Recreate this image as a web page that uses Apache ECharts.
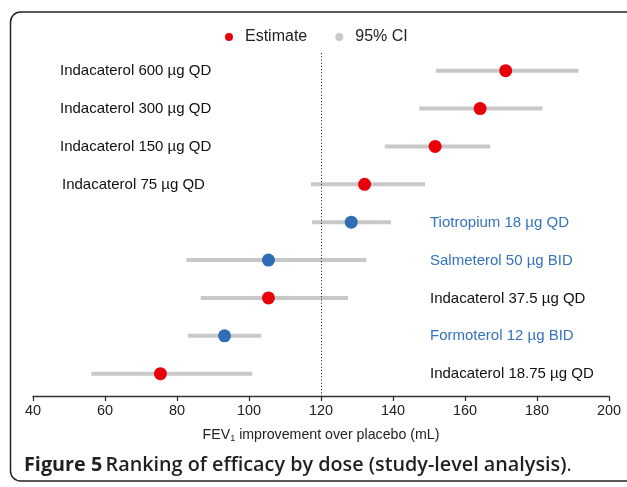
<!DOCTYPE html>
<html>
<head>
<meta charset="utf-8">
<script src="https://cdn.jsdelivr.net/npm/echarts@6/dist/echarts.min.js"></script>
<style>html,body{margin:0;padding:0;background:#fff;}#c{width:627px;height:487px;}</style>
</head>
<body>
<div id="c"></div>
<script>
const rowNames = ['Indacaterol 600 µg QD','Indacaterol 300 µg QD','Indacaterol 150 µg QD','Indacaterol 75 µg QD','Tiotropium 18 µg QD','Salmeterol 50 µg BID','Indacaterol 37.5 µg QD','Formoterol 12 µg BID','Indacaterol 18.75 µg QD'];
const estimates = [171.3, 164.2, 151.7, 132.1, 128.4, 105.4, 105.4, 93.2, 75.4];
const ciLow = [151.9, 147.3, 137.7, 117.2, 117.5, 82.6, 86.6, 83.0, 56.2];
const ciHigh = [191.5, 181.5, 167.0, 148.9, 139.4, 132.6, 127.5, 103.4, 100.9];
const isComparator = [false, false, false, false, true, true, false, true, false];
const labelSide = ['left','left','left','left','right','right','right','right','right'];
const xTicks = [40, 60, 80, 100, 120, 140, 160, 180, 200];
const refValue = 120;

const RED = '#e8000b', BLUE = '#2f6db5', BLUE_TXT = '#3573bd', GREY = '#c8c8c8';
const FONT = '"Liberation Sans", Arial, sans-serif';

const chart = echarts.init(document.getElementById('c'), null, {renderer: 'canvas'});
const option = {
  animation: false,
  backgroundColor: '#fff',
  legend: {
    left: 220, top: 24, itemWidth: 22, itemHeight: 8, itemGap: 28,
    textStyle: {fontFamily: FONT, fontSize: 16, color: '#222'},
    data: [{name: 'Estimate', icon: 'circle'}, {name: '95% CI', icon: 'circle'}]
  },
  grid: {left: 33, right: 18, top: 53, bottom: 91, containLabel: false},
  xAxis: {
    type: 'value', min: xTicks[0], max: xTicks[xTicks.length - 1], interval: 20,
    axisLine: {show: true, onZero: false, lineStyle: {color: '#333', width: 1.3}},
    axisTick: {show: true, inside: false, length: 5, lineStyle: {color: '#333', width: 1.3}},
    axisLabel: {fontFamily: FONT, fontSize: 14.5, color: '#222', margin: 7},
    splitLine: {show: false},
    name: '{a|FEV}{s|1}{a| improvement over placebo (mL)}',
    nameLocation: 'middle', nameGap: 32,
    nameTextStyle: {
      rich: {
        a: {fontFamily: FONT, fontSize: 14.2, color: '#222'},
        s: {fontFamily: FONT, fontSize: 9, color: '#222', verticalAlign: 'bottom', padding: [6, 0, 0, 0]}
      }
    }
  },
  yAxis: {type: 'value', inverse: true, min: -0.467, max: 8.589, show: false},
  series: [
    {
      name: '95% CI', type: 'custom',
      itemStyle: {color: GREY},
      data: rowNames.map((n, i) => [i, ciLow[i], ciHigh[i]]),
      encode: {x: [1, 2], y: 0},
      renderItem: function (params, api) {
        const p1 = api.coord([api.value(1), api.value(0)]);
        const p2 = api.coord([api.value(2), api.value(0)]);
        return {type: 'line', shape: {x1: p1[0], y1: p1[1], x2: p2[0], y2: p2[1]},
          style: {stroke: GREY, lineWidth: 4, lineCap: 'butt'}};
      },
      z: 2,
      markLine: {
        silent: true, symbol: 'none', label: {show: false},
        lineStyle: {type: [1.2, 2], color: '#333', width: 1},
        data: [{xAxis: refValue}]
      }
    },
    {
      name: 'Estimate', type: 'scatter', symbol: 'circle', symbolSize: 13,
      itemStyle: {color: RED, opacity: 1},
      data: estimates.map((v, i) => ({value: [v, i], itemStyle: {color: isComparator[i] ? BLUE : RED}})),
      z: 4
    },
    {
      name: 'labels', type: 'custom', silent: true,
      data: rowNames.map((n, i) => [i]),
      encode: {y: 0},
      renderItem: function (params, api) {
        const i = params.dataIndex;
        const p = api.coord([xTicks[0], api.value(0)]);
        return {type: 'text', x: labelSide[i] === 'left' ? (i === 3 ? 62 : 60) : 430, y: p[1] + 0.5,
          style: {text: rowNames[i], fill: isComparator[i] ? BLUE_TXT : '#111',
            font: '15px ' + FONT, verticalAlign: 'middle', align: 'left'}};
      },
      z: 3
    }
  ],
  graphic: [
    {type: 'rect', shape: {x: 10.5, y: 12, width: 660, height: 469, r: 10},
      style: {fill: 'none', stroke: '#222', lineWidth: 1.5}, silent: true},
    {type: 'text', x: 24, y: 465, silent: true,
      style: {
        text: '{b|Figure 5} {s|Ranking of efficacy by dose (study-level analysis)}{n|.}',
        verticalAlign: 'middle',
        rich: {
          b: {fontFamily: '"Open Sans", sans-serif', fontWeight: 'bold', fontSize: 19.8, fill: '#231f20'},
          s: {fontFamily: '"Open Sans", sans-serif', fontWeight: 600, fontSize: 19.8, fill: '#231f20'},
          n: {fontFamily: '"Open Sans", sans-serif', fontWeight: 'normal', fontSize: 19.8, fill: '#231f20'}
        }
      }}
  ]
};
chart.setOption(option);
</script>
</body>
</html>
